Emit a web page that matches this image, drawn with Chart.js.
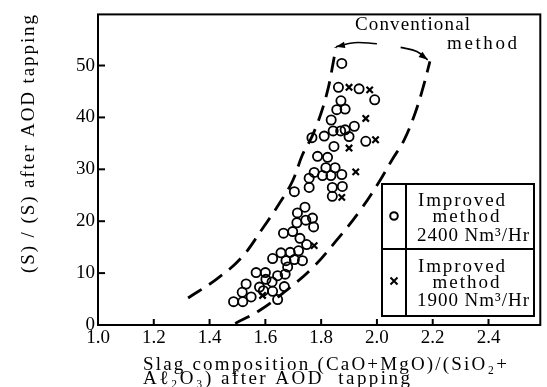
<!DOCTYPE html>
<html>
<head>
<meta charset="utf-8">
<script src="https://cdn.jsdelivr.net/npm/chart.js@4.4.1/dist/chart.umd.min.js"></script>
<style>
html, body { margin: 0; padding: 0; background: #fff; }
#wrap { width: 547px; height: 387px; }
</style>
</head>
<body>
<div id="wrap"><canvas id="slagChart" width="547" height="387"></canvas></div>
<script>
// axis ticks
const xTicks = [1.0, 1.2, 1.4, 1.6, 1.8, 2.0, 2.2, 2.4];
const yTicks = [0, 10, 20, 30, 40, 50];

// Improved method 2400 Nm3/Hr (circles)
const basicity2400 = [1.874, 1.862, 1.936, 1.992, 1.871, 1.856, 1.886, 1.836, 1.919, 1.811,
    1.843, 1.870, 1.886, 1.900, 1.767, 1.846, 1.960, 1.787, 1.823, 1.817,
    1.850, 1.775, 1.805, 1.835, 1.874, 1.757, 1.757, 1.840, 1.876, 1.840,
    1.704, 1.742, 1.715, 1.769, 1.745, 1.713, 1.773, 1.698, 1.665, 1.724,
    1.748, 1.656, 1.689, 1.719, 1.626, 1.674, 1.704, 1.733, 1.680, 1.567,
    1.600, 1.644, 1.671, 1.602, 1.531, 1.624, 1.579, 1.668, 1.593, 1.517,
    1.549, 1.626, 1.644, 1.486, 1.519];
const sRatio2400 = [50.4, 45.8, 45.5, 43.4, 43.2, 41.5, 41.6, 39.5, 38.3, 36.4,
    37.4, 37.4, 37.6, 36.3, 36.1, 34.4, 35.4, 32.5, 32.3, 30.3,
    30.3, 29.4, 28.8, 28.8, 29.0, 28.3, 26.5, 26.5, 26.7, 24.8,
    25.7, 22.7, 21.6, 20.6, 20.2, 19.7, 18.9, 18.0, 17.7, 16.7,
    15.5, 13.9, 14.0, 14.3, 12.8, 12.4, 12.6, 12.4, 11.2, 10.1,
    10.1, 9.5, 9.8, 8.8, 7.9, 8.3, 7.3, 7.4, 6.6, 6.3,
    5.4, 6.5, 4.9, 4.5, 4.5];

// Improved method 1900 Nm3/Hr (crosses)
const basicity1900 = [1.900, 1.974, 1.960, 1.900, 1.995, 1.924, 1.874, 1.775, 1.590];
const sRatio1900 = [45.8, 45.3, 39.8, 34.1, 35.7, 29.5, 24.6, 15.3, 5.7];

// Conventional method band (dashed)
const upperBandX = [1.323, 1.424, 1.513, 1.590, 1.650, 1.698, 1.733, 1.767, 1.799, 1.826, 1.840, 1.853];
const upperBandY = [5.2, 8.8, 12.9, 18.6, 23.4, 27.8, 32.8, 36.3, 40.7, 45.8, 49.6, 53.5];
const lowerBandX = [1.492, 1.579, 1.674, 1.769, 1.852, 1.936, 2.007, 2.055, 2.096, 2.132, 2.162, 2.190];
const lowerBandY = [0.3, 2.8, 6.6, 11.0, 16.1, 21.8, 27.5, 31.9, 35.5, 40.1, 45.1, 50.8];

// label arrows
const leftArrowX = [2.000, 1.918, 1.853];
const leftArrowY = [54.2, 54.4, 53.6];
const rightArrowX = [2.085, 2.143, 2.182];
const rightArrowY = [53.5, 52.7, 51.1];

const legendLines = [
    ["Improved", "method", "2400 Nm\u00B3/Hr"],
    ["Improved", "method", "1900 Nm\u00B3/Hr"]
];
const xTitle = ["Slag composition (CaO+MgO)/(SiO\u2082+", "A\u2113\u2082O\u2083) after AOD  tapping"];
const yTitle = "(S) / (S) after AOD tapping";

function pairs(xs, ys) {
    return xs.map((x, i) => ({ x: x, y: ys[i] }));
}

const SERIF = "'Liberation Serif', 'DejaVu Serif', serif";

function fitText(ctx, text, x, y, width) {
    ctx.letterSpacing = "0px";
    const w = ctx.measureText(text).width;
    const n = [...text].length;
    ctx.letterSpacing = Math.max(0, (width - w) / (n - 1)) + "px";
    ctx.textAlign = "left";
    ctx.fillText(text, x, y);
    ctx.letterSpacing = "0px";
}

function centerText(ctx, text, cx, y, width) {
    fitText(ctx, text, cx - width / 2, y, width);
}

const decorPlugin = {
    id: "decor",
    afterDatasetsDraw(chart) {
        const ctx = chart.ctx;
        const a = chart.chartArea;
        const xs = chart.scales.x;
        const ys = chart.scales.y;
        ctx.save();
        ctx.strokeStyle = "#000";
        ctx.fillStyle = "#000";

        // frame
        ctx.lineWidth = 2;
        ctx.strokeRect(a.left, a.top, a.right - a.left, a.bottom - a.top);

        // inner ticks
        xTicks.forEach(v => {
            const px = xs.getPixelForValue(v);
            ctx.beginPath();
            ctx.moveTo(px, a.bottom);
            ctx.lineTo(px, a.bottom - 6);
            ctx.stroke();
        });
        yTicks.forEach(v => {
            const py = ys.getPixelForValue(v);
            ctx.beginPath();
            ctx.moveTo(a.left, py);
            ctx.lineTo(a.left + 7, py);
            ctx.stroke();
        });

        // arrowheads
        chart.data.datasets.forEach((ds, i) => {
            if (!ds.arrow) return;
            const pts = chart.getDatasetMeta(i).data;
            const p1 = pts[pts.length - 2], p2 = pts[pts.length - 1];
            const ang = Math.atan2(p2.y - p1.y, p2.x - p1.x);
            const L = 9, W = 3.2;
            ctx.beginPath();
            ctx.moveTo(p2.x, p2.y);
            ctx.lineTo(p2.x - L * Math.cos(ang) + W * Math.sin(ang), p2.y - L * Math.sin(ang) - W * Math.cos(ang));
            ctx.lineTo(p2.x - L * Math.cos(ang) - W * Math.sin(ang), p2.y - L * Math.sin(ang) + W * Math.cos(ang));
            ctx.closePath();
            ctx.fill();
        });

        ctx.font = "19px " + SERIF;
        ctx.textBaseline = "alphabetic";

        // "Conventional method" label
        fitText(ctx, "Conventional", 355, 30, 115);
        fitText(ctx, "method", 447, 49, 70);

        // legend box
        const bx = 382, by = 184, bw = 152, bh = 132, div = 406, mid = 249;
        ctx.fillStyle = "#fff";
        ctx.fillRect(bx, by, bw, bh);
        ctx.fillStyle = "#000";
        ctx.lineWidth = 2;
        ctx.strokeRect(bx, by, bw, bh);
        ctx.beginPath();
        ctx.moveTo(div, by); ctx.lineTo(div, by + bh);
        ctx.moveTo(bx, mid); ctx.lineTo(bx + bw, mid);
        ctx.stroke();

        ctx.lineWidth = 2;
        ctx.beginPath();
        ctx.arc(394, 216, 3.8, 0, Math.PI * 2);
        ctx.stroke();
        ctx.beginPath();
        ctx.moveTo(390.5, 277.5); ctx.lineTo(397.5, 284.5);
        ctx.moveTo(397.5, 277.5); ctx.lineTo(390.5, 284.5);
        ctx.stroke();

        const rows = [[206, 222, 241], [272, 288, 306]];
        const widths = [87, 67, 112];
        const centers = [461.5, 466, 473];
        legendLines.forEach((lines, r) => {
            lines.forEach((t, k) => centerText(ctx, t, centers[k], rows[r][k], widths[k]));
        });

        // axis titles
        fitText(ctx, xTitle[0], 143, 370, 364);
        fitText(ctx, xTitle[1], 143, 384, 267);

        ctx.translate(34, 273);
        ctx.rotate(-Math.PI / 2);
        fitText(ctx, yTitle, 0, 0, 258);

        ctx.restore();
    }
};

const ctx = document.getElementById("slagChart").getContext("2d");

new Chart(ctx, {
    type: "scatter",
    data: {
        datasets: [
            {
                label: "Improved method 2400 Nm3/Hr",
                data: pairs(basicity2400, sRatio2400),
                pointStyle: "circle",
                pointRadius: 4.6,
                borderWidth: 1.8,
                borderColor: "#000",
                backgroundColor: "rgba(0,0,0,0)"
            },
            {
                label: "Improved method 1900 Nm3/Hr",
                data: pairs(basicity1900, sRatio1900),
                pointStyle: "crossRot",
                pointRadius: 4.5,
                borderWidth: 2.2,
                borderColor: "#000"
            },
            {
                label: "Conventional upper",
                data: pairs(upperBandX, upperBandY),
                showLine: true,
                pointRadius: 0,
                borderColor: "#000",
                borderWidth: 2.8,
                borderDash: [16, 9],
                tension: 0.4
            },
            {
                label: "Conventional lower",
                data: pairs(lowerBandX, lowerBandY),
                showLine: true,
                pointRadius: 0,
                borderColor: "#000",
                borderWidth: 2.8,
                borderDash: [16, 9],
                tension: 0.4
            },
            {
                label: "arrow left",
                data: pairs(leftArrowX, leftArrowY),
                showLine: true,
                pointRadius: 0,
                borderColor: "#000",
                borderWidth: 1.6,
                tension: 0.4,
                arrow: true
            },
            {
                label: "arrow right",
                data: pairs(rightArrowX, rightArrowY),
                showLine: true,
                pointRadius: 0,
                borderColor: "#000",
                borderWidth: 1.6,
                tension: 0.4,
                arrow: true
            }
        ]
    },
    options: {
        responsive: false,
        animation: false,
        devicePixelRatio: 1,
        layout: { padding: { top: 9, right: 5, left: 0, bottom: 0 } },
        plugins: {
            legend: { display: false },
            tooltip: { enabled: false }
        },
        scales: {
            x: {
                type: "linear",
                min: 1.0,
                max: 2.5857,
                grid: { display: false, drawTicks: false },
                border: { display: false },
                afterBuildTicks: s => { s.ticks = xTicks.map(v => ({ value: v })); },
                afterFit: s => { s.height = 62; },
                ticks: {
                    padding: 2,
                    color: "#000",
                    font: { family: SERIF, size: 19 },
                    maxRotation: 0,
                    callback: v => v.toFixed(1)
                }
            },
            y: {
                type: "linear",
                min: 0,
                max: 59.85,
                grid: { display: false, drawTicks: false },
                border: { display: false },
                afterBuildTicks: s => { s.ticks = yTicks.map(v => ({ value: v })); },
                afterFit: s => { s.width = 98; },
                ticks: {
                    padding: 3,
                    color: "#000",
                    font: { family: SERIF, size: 19 }
                }
            }
        }
    },
    plugins: [decorPlugin]
});
</script>
</body>
</html>
